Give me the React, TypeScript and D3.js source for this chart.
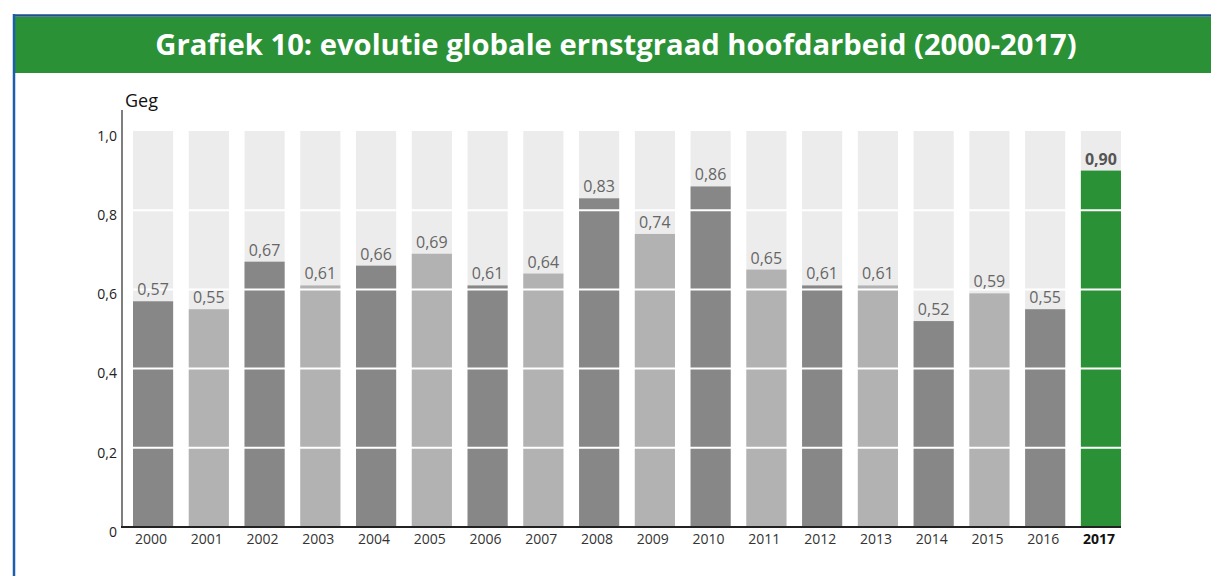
import * as d3 from "d3"

const years = [
  "2000", "2001", "2002", "2003", "2004", "2005", "2006", "2007", "2008",
  "2009", "2010", "2011", "2012", "2013", "2014", "2015", "2016", "2017",
]
const values = [
  0.57, 0.55, 0.67, 0.61, 0.66, 0.69, 0.61, 0.64, 0.83,
  0.74, 0.86, 0.65, 0.61, 0.61, 0.52, 0.59, 0.55, 0.9,
]
const yTicks = [0, 0.2, 0.4, 0.6, 0.8, 1.0]
const title = "Grafiek 10: evolutie globale ernstgraad hoofdarbeid (2000-2017)"
const unitLabel = "Geg"

const W = 1211
const H = 576
const font = "'Open Sans', sans-serif"
const fmt = (v: number) => v.toFixed(2).replace(".", ",")
const fmtTick = (v: number) => (v === 0 ? "0" : v.toFixed(1).replace(".", ","))

export default function App() {
  const x = d3.scaleBand().domain(years).range([133, 1121]).paddingInner(0.28).paddingOuter(0)
  const y = d3.scaleLinear().domain([0, 1]).range([527, 131])
  const last = years.length - 1

  const barColor = (i: number) =>
    i === last ? "#2a9136" : i % 2 === 0 ? "#878787" : "#b2b2b2"

  return (
    <svg
      width={W}
      height={H}
      style={{ position: "fixed", left: 0, top: 0, background: "#fff" }}
      fontFamily={font}
    >
      {/* frame + title band */}
      <rect x={15} y={17} width={W - 15} height={56} fill="#2a9136" />
      <line x1={14} x2={W} y1={15.5} y2={15.5} stroke="#1f4f8f" strokeWidth={2.5} />
      <line x1={14} x2={14} y1={14} y2={H} stroke="#1d5eab" strokeWidth={2.5} />
      <text x={616} y={55} textAnchor="middle" fill="#fff" fontSize={29.2} fontWeight={700}>
        {title}
      </text>

      <text x={125} y={107} fontSize={18} fill="#111">
        {unitLabel}
      </text>

      {/* background columns */}
      {years.map((yr) => (
        <rect key={"bg" + yr} x={x(yr)} y={y(1)} width={x.bandwidth()} height={y(0) - y(1)} fill="#ececec" />
      ))}

      {/* bars */}
      {years.map((yr, i) => (
        <rect
          key={"b" + yr}
          x={x(yr)}
          y={y(values[i])}
          width={x.bandwidth()}
          height={y(0) - y(values[i])}
          fill={barColor(i)}
        />
      ))}

      {/* white grid lines over the bars */}
      {yTicks
        .filter((t) => t > 0 && t < 1)
        .map((t) => (
          <line key={"g" + t} x1={122} x2={1122} y1={y(t)} y2={y(t)} stroke="#fff" strokeWidth={2} />
        ))}

      {/* value labels */}
      {years.map((yr, i) => (
        <text
          key={"v" + yr}
          x={(x(yr) ?? 0) + x.bandwidth() / 2}
          y={y(values[i]) - 6}
          textAnchor="middle"
          fontSize={16}
          fontWeight={i === last ? 700 : 400}
          fill={i === last ? "#555" : "#666"}
        >
          {fmt(values[i])}
        </text>
      ))}

      {/* axes */}
      <line x1={122} x2={122} y1={110} y2={528} stroke="#555" strokeWidth={1.5} />
      <line x1={121} x2={1121} y1={527} y2={527} stroke="#222" strokeWidth={2} />

      {yTicks.map((t) => (
        <text
          key={"t" + t}
          x={117}
          y={y(t) + 6}
          textAnchor="end"
          dominantBaseline="middle"
          fontSize={14}
          fill="#222"
        >
          {fmtTick(t)}
        </text>
      ))}

      {years.map((yr, i) => (
        <text
          key={"x" + yr}
          x={(x(yr) ?? 0) + x.bandwidth() / 2 - 2}
          y={544}
          textAnchor="middle"
          fontSize={14}
          fontWeight={i === last ? 700 : 400}
          fill={i === last ? "#111" : "#333"}
        >
          {yr}
        </text>
      ))}
    </svg>
  )
}
